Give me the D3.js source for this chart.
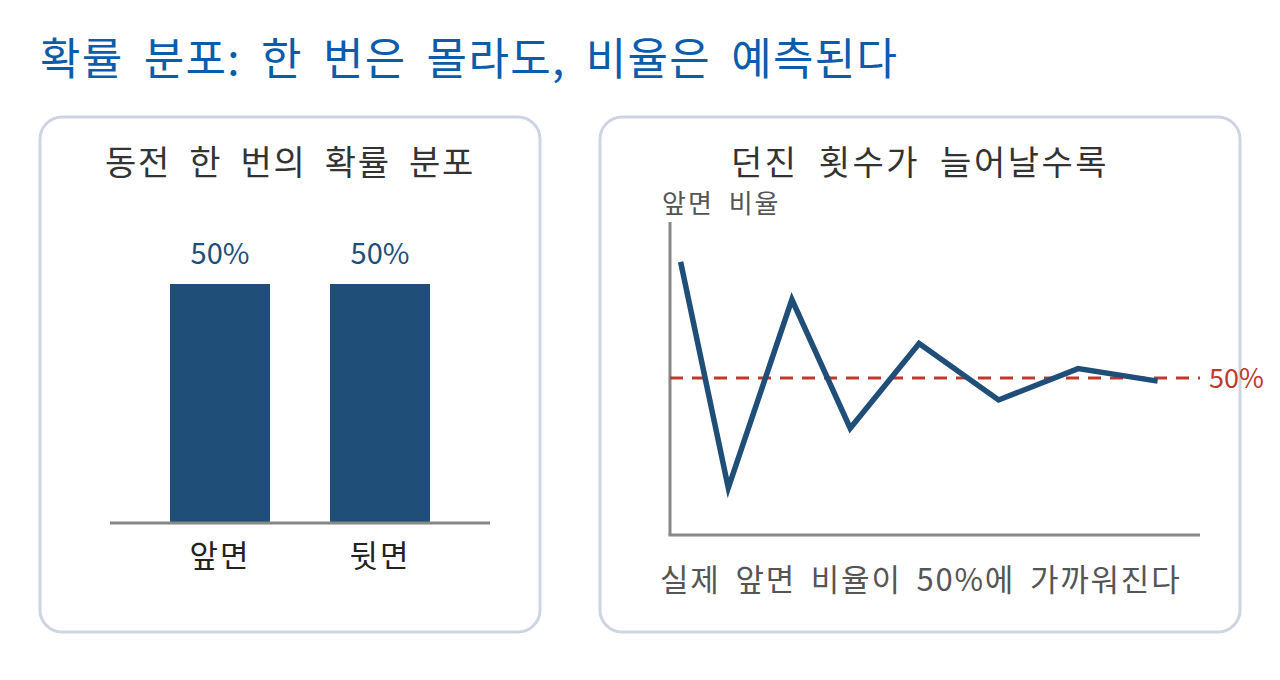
<!DOCTYPE html>
<html>
<head>
<meta charset="utf-8">
<script src="https://cdn.jsdelivr.net/npm/d3@7"></script>
<style>
  body { margin: 0; background: #fff; }
  svg text { font-family: "Noto Sans CJK KR", "Noto Sans", sans-serif; }
</style>
</head>
<body>
<div id="div_svg"></div>
<script>
// data
var categories = ["앞면", "뒷면"];
var probs = [0.5, 0.5];
var probLabels = ["50%", "50%"];

var tosses = [2, 11, 23, 34, 47, 62, 77, 92];
var headRatio = [0.87, 0.15, 0.75, 0.34, 0.61, 0.43, 0.53, 0.49];
var target = 0.5;

var blue = "#1f4e79";
var red = "#c0392b";

var svg = d3.select("#div_svg").append("svg").attr("id", "svg")
    .attr("width", 1280).attr("height", 680);

svg.append("text").attr("x", 40).attr("y", 75)
    .style("font-size", "44px").style("fill", "#0b5cad")
    .style("letter-spacing", "1.3px").style("word-spacing", "9px")
    .text("확률 분포: 한 번은 몰라도, 비율은 예측된다");

// panels
svg.append("rect").attr("x", 40).attr("y", 117).attr("width", 500).attr("height", 515)
    .attr("rx", 22).style("fill", "#fff").style("stroke", "#cdd5e3").style("stroke-width", 3);
svg.append("rect").attr("x", 600).attr("y", 117).attr("width", 640).attr("height", 515)
    .attr("rx", 22).style("fill", "#fff").style("stroke", "#cdd5e3").style("stroke-width", 3);

// left: bar chart
svg.append("text").attr("x", 290).attr("y", 175).attr("text-anchor", "middle")
    .style("font-size", "34px").style("fill", "#333")
    .style("letter-spacing", "1.7px").style("word-spacing", "9px")
    .text("동전 한 번의 확률 분포");

var xb = d3.scaleBand().domain(categories).range([110, 490])
    .paddingInner(0.375).paddingOuter(0.375);
var yb = d3.scaleLinear().domain([0, 1]).range([523, 45]);

svg.selectAll(".bar").data(probs).enter().append("rect").attr("class", "bar")
    .attr("x", function(d, i) { return xb(categories[i]); })
    .attr("y", function(d) { return yb(d); })
    .attr("width", xb.bandwidth())
    .attr("height", function(d) { return yb(0) - yb(d); })
    .style("fill", "#1f4e79");

svg.selectAll(".blab").data(probs).enter().append("text").attr("class", "blab")
    .attr("x", function(d, i) { return xb(categories[i]) + xb.bandwidth() / 2; })
    .attr("y", function(d) { return yb(d) - 20; })
    .attr("text-anchor", "middle")
    .style("font-size", "29px").style("fill", blue)
    .text(function(d, i) { return probLabels[i]; });

svg.append("line").attr("x1", 110).attr("x2", 490).attr("y1", yb(0)).attr("y2", yb(0))
    .style("stroke", "#888").style("stroke-width", 3);

svg.selectAll(".cat").data(categories).enter().append("text").attr("class", "cat")
    .attr("x", function(d) { return xb(d) + xb.bandwidth() / 2; })
    .attr("y", 567).attr("text-anchor", "middle")
    .style("font-size", "31px").style("fill", "#222").style("letter-spacing", "2px")
    .text(function(d) { return d; });

// right: line chart
svg.append("text").attr("x", 920).attr("y", 175).attr("text-anchor", "middle")
    .style("font-size", "34px").style("fill", "#333")
    .style("letter-spacing", "2.5px").style("word-spacing", "10px")
    .text("던진 횟수가 늘어날수록");

svg.append("text").attr("x", 662).attr("y", 213)
    .style("font-size", "26px").style("fill", "#555")
    .style("letter-spacing", "2px").style("word-spacing", "7px")
    .text("앞면 비율");

var x = d3.scaleLinear().domain([0, 100]).range([670, 1200]);
var y = d3.scaleLinear().domain([0, 1]).range([535, 221]);

svg.append("line").attr("x1", x(0)).attr("x2", x(0)).attr("y1", 222).attr("y2", y(0))
    .style("stroke", "#888").style("stroke-width", 3);
svg.append("line").attr("x1", x(0) - 1.5).attr("x2", x(100)).attr("y1", y(0)).attr("y2", y(0))
    .style("stroke", "#888").style("stroke-width", 3);

svg.append("line").attr("x1", x(0)).attr("x2", x(100)).attr("y1", y(target)).attr("y2", y(target))
    .style("stroke", red).style("stroke-width", 3).style("stroke-dasharray", "13,9");

svg.append("text").attr("x", x(100) + 9).attr("y", y(target) + 10)
    .style("font-size", "27px").style("fill", red).text("50%");

var line = d3.line()
    .x(function(d, i) { return x(tosses[i]); })
    .y(function(d) { return y(d); });

svg.append("path").attr("d", line(headRatio))
    .style("fill", "none").style("stroke", blue).style("stroke-width", 5.5)
    .style("stroke-linejoin", "miter");

svg.append("text").attr("x", 660).attr("y", 591)
    .style("font-size", "31px").style("fill", "#555")
    .style("letter-spacing", "1.8px").style("word-spacing", "6px")
    .text("실제 앞면 비율이 50%에 가까워진다");
</script>
</body>
</html>
